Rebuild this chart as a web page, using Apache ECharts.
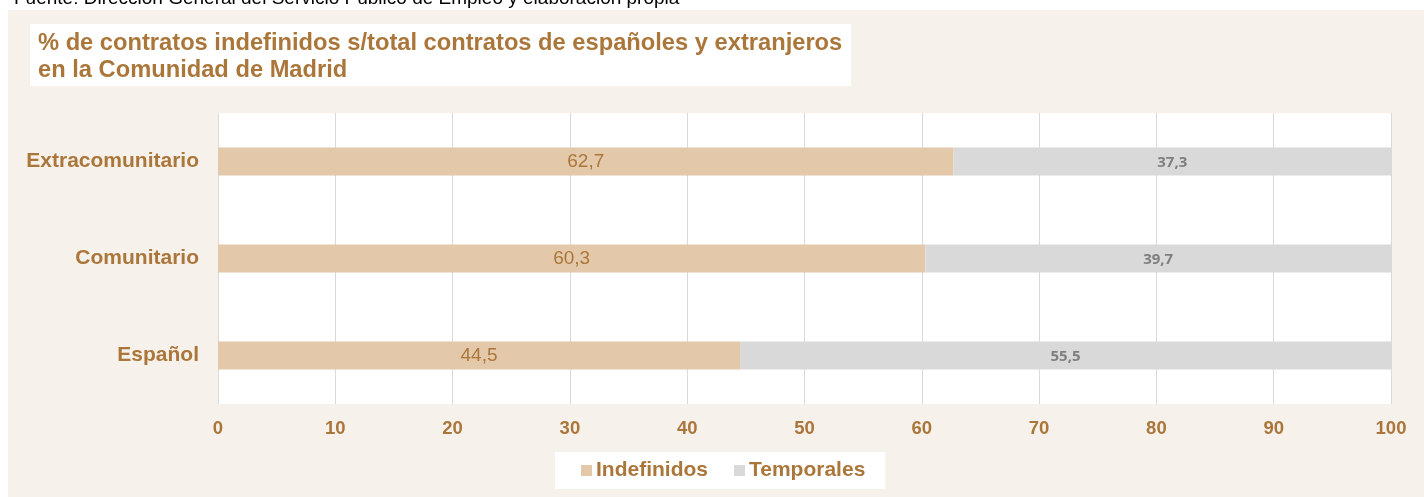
<!DOCTYPE html>
<html>
<head>
<meta charset="utf-8">
<script src="https://cdn.jsdelivr.net/npm/echarts@6/dist/echarts.min.js"></script>
<style>
  html, body { margin: 0; padding: 0; background: #fff; }
  #chart { width: 1424px; height: 497px; }
</style>
</head>
<body>
<div id="chart"></div>
<script>
// categorias (de abajo a arriba)
const categories = ['Español', 'Comunitario', 'Extracomunitario']
// % indefinidos
const indefinidos = [44.5, 60.3, 62.7]
// % temporales
const temporales = [55.5, 39.7, 37.3]
const xTicks = { min: 0, max: 100, interval: 10 }

const brown = '#ab763a'
const myChart = echarts.init(document.getElementById('chart'))

function coma(p) {
  return String(p.value.toFixed(1)).replace('.', ',')
}

let option = {
  backgroundColor: '#fff',
  animation: false,
  graphic: [
    {
      type: 'text',
      left: 14,
      top: -11,
      style: {
        text: 'Fuente: Dirección General del Servicio Público de Empleo y elaboración propia',
        font: '19px "Liberation Sans", Arial, sans-serif',
        fill: '#000'
      }
    },
    {
      type: 'rect',
      shape: { x: 8, y: 10, width: 1416, height: 487 },
      style: { fill: '#f6f1eb' },
      z: -10
    },
    {
      type: 'rect',
      shape: { x: 30, y: 24, width: 821, height: 62 },
      style: { fill: '#fff' },
      z: -5
    },
    {
      type: 'text',
      left: 38,
      top: 30,
      style: {
        text: '% de contratos indefinidos s/total contratos de españoles y extranjeros\nen la Comunidad de Madrid',
        font: 'bold 23.7px "Liberation Sans", Arial, sans-serif',
        lineHeight: 27,
        fill: brown
      }
    }
  ],
  legend: {
    data: ['Indefinidos', 'Temporales'],
    left: 555,
    top: 452,
    backgroundColor: '#fff',
    padding: [8, 20, 8, 26],
    itemWidth: 11,
    itemHeight: 11,
    itemGap: 26,
    icon: 'rect',
    textStyle: {
      color: brown,
      fontFamily: '"Liberation Sans", Arial, sans-serif',
      fontWeight: 'bold',
      fontSize: 21,
      padding: [0, 0, 0, -1]
    }
  },
  grid: {
    left: 218,
    right: 33,
    top: 113,
    bottom: 93,
    show: true,
    backgroundColor: '#fff',
    borderWidth: 0
  },
  xAxis: {
    type: 'value',
    min: xTicks.min,
    max: xTicks.max,
    interval: xTicks.interval,
    axisLine: { show: false },
    axisTick: { show: false },
    splitLine: { show: true, lineStyle: { color: '#d9d9d9', width: 1 } },
    axisLabel: {
      color: brown,
      fontFamily: '"Liberation Sans", Arial, sans-serif',
      fontWeight: 'bold',
      fontSize: 18.5,
      margin: 15
    }
  },
  yAxis: {
    type: 'category',
    data: categories,
    axisLine: { show: false },
    axisTick: { show: false },
    axisLabel: {
      color: brown,
      fontFamily: '"Liberation Sans", Arial, sans-serif',
      fontWeight: 'bold',
      fontSize: 21,
      margin: 19
    }
  },
  series: [
    {
      name: 'Indefinidos',
      type: 'bar',
      stack: 'total',
      barWidth: 28,
      data: indefinidos,
      itemStyle: { color: '#e4c8aa' },
      label: {
        show: true,
        position: 'inside',
        formatter: coma,
        color: brown,
        fontFamily: '"Liberation Sans", Arial, sans-serif',
        fontSize: 19
      }
    },
    {
      name: 'Temporales',
      type: 'bar',
      stack: 'total',
      barWidth: 28,
      data: temporales,
      itemStyle: { color: '#d9d9d9' },
      label: {
        show: true,
        position: 'inside',
        offset: [0, 1],
        formatter: coma,
        color: '#7f7f7f',
        fontFamily: '"Open Sans", sans-serif',
        fontWeight: 'bold',
        fontSize: 15
      }
    }
  ]
}
myChart.setOption(option, true)
</script>
</body>
</html>
